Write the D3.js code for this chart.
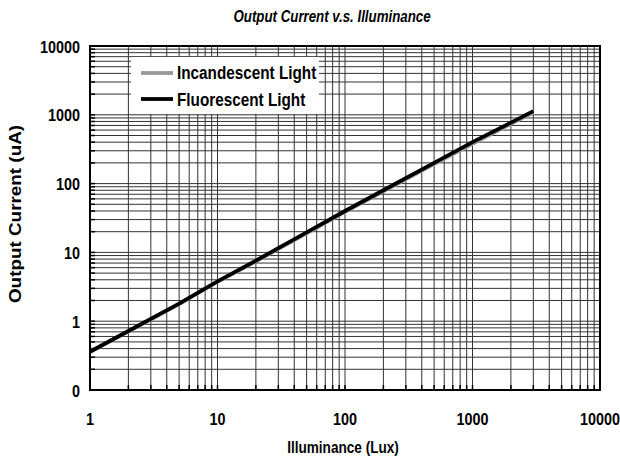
<!DOCTYPE html>
<html><head><meta charset="utf-8">
<script src="https://cdn.jsdelivr.net/npm/d3@7"></script>
<style>body{margin:0;background:#fff}svg{display:block}text{font-family:"Liberation Sans",Arial,sans-serif;font-weight:bold}</style>
</head><body><svg id="c" width="620" height="464"></svg>
<script>
const lux = [1, 2, 5, 10, 20, 50, 100, 200, 500, 1000, 2000, 3000];
const fluorescent = [0.36, 0.72, 1.8, 3.8, 7.6, 19.5, 40, 80, 200, 400, 770, 1130];
const incandescent = [0.36, 0.71, 1.78, 3.75, 7.4, 19, 39, 77, 192, 380, 740, 1080];
const xTicks = [1, 10, 100, 1000, 10000];
const yTicks = [0.1, 1, 10, 100, 1000, 10000];
const yTickLabels = ["0", "1", "10", "100", "1000", "10000"];
const seriesNames = ["Incandescent Light", "Fluorescent Light"];

const svg = d3.select("#c");
const L = 90, R = 600, T = 46, B = 390;
const SY = 1.18;
const x = d3.scaleLog().domain([1, 10000]).range([L, R]);
const y = d3.scaleLog().domain([0.1, 10000]).range([B, T]);

const xMinor = [], yMinor = [];
for (let d = 1; d < 10000; d *= 10) for (let k = 1; k <= 9; k++) xMinor.push(d * k);
for (let d = 0.1; d < 9999; d *= 10) for (let k = 1; k <= 9; k++) yMinor.push(+(d * k).toPrecision(3));

const g = svg.append("g");
g.selectAll(".vx").data(xMinor.filter(v => v > 1)).join("line")
  .attr("x1", d => x(d)).attr("x2", d => x(d)).attr("y1", T).attr("y2", B)
  .attr("stroke", "#333").attr("stroke-width", 1);
g.selectAll(".hy").data(yMinor.filter(v => v > 0.1)).join("line")
  .attr("y1", d => y(d)).attr("y2", d => y(d)).attr("x1", L).attr("x2", R)
  .attr("stroke", "#333").attr("stroke-width", 1);
g.selectAll(".tx").data(xMinor).join("line")
  .attr("x1", d => x(d)).attr("x2", d => x(d)).attr("y1", B).attr("y2", B - 5)
  .attr("stroke", "#000").attr("stroke-width", 1.5);
g.selectAll(".ty").data(yMinor).join("line")
  .attr("y1", d => y(d)).attr("y2", d => y(d)).attr("x1", L).attr("x2", L + 5)
  .attr("stroke", "#000").attr("stroke-width", 1.5);

svg.append("rect").attr("x", 131).attr("y", 57).attr("width", 188).attr("height", 57).attr("fill", "#fff");

const line = d3.line().x(d => x(d[0])).y(d => y(d[1]));
svg.append("path").datum(lux.map((v, i) => [v, incandescent[i]])).attr("d", line)
  .attr("fill", "none").attr("stroke", "#999").attr("stroke-width", 3.8);
svg.append("path").datum(lux.map((v, i) => [v, fluorescent[i]])).attr("d", line)
  .attr("fill", "none").attr("stroke", "#000").attr("stroke-width", 3.8);

svg.append("rect").attr("x", L).attr("y", T).attr("width", R - L).attr("height", B - T)
  .attr("fill", "none").attr("stroke", "#000").attr("stroke-width", 2);

function txt(px, py, s, size, anchor, extra) {
  const t = svg.append("text").attr("transform", `translate(${px},${py}) ${extra || `scale(1,${SY})`}`)
    .attr("text-anchor", anchor).attr("font-size", size).text(s);
  return t;
}
xTicks.forEach(d => txt(x(d), 425, d, 14.4, "middle"));
yTicks.forEach((d, i) => txt(80, y(d) + 6.5, yTickLabels[i], 14.4, "end"));

txt(332, 22, "Output Current v.s. Illuminance", 13.3, "middle").attr("font-style", "italic");
txt(343, 453, "Illuminance (Lux)", 13.6, "middle");
txt(21, 214, "Output Current (uA)", 16, "middle", `rotate(-90) scale(${SY},1)`);

[["#999", 73, 78.5], ["#000", 99, 105.5]].forEach(([c, yy, ty], i) => {
  svg.append("line").attr("x1", 141).attr("x2", 173).attr("y1", yy).attr("y2", yy)
    .attr("stroke", c).attr("stroke-width", 3.8);
  txt(177, ty, seriesNames[i], 15.3, "start");
});
</script></body></html>
